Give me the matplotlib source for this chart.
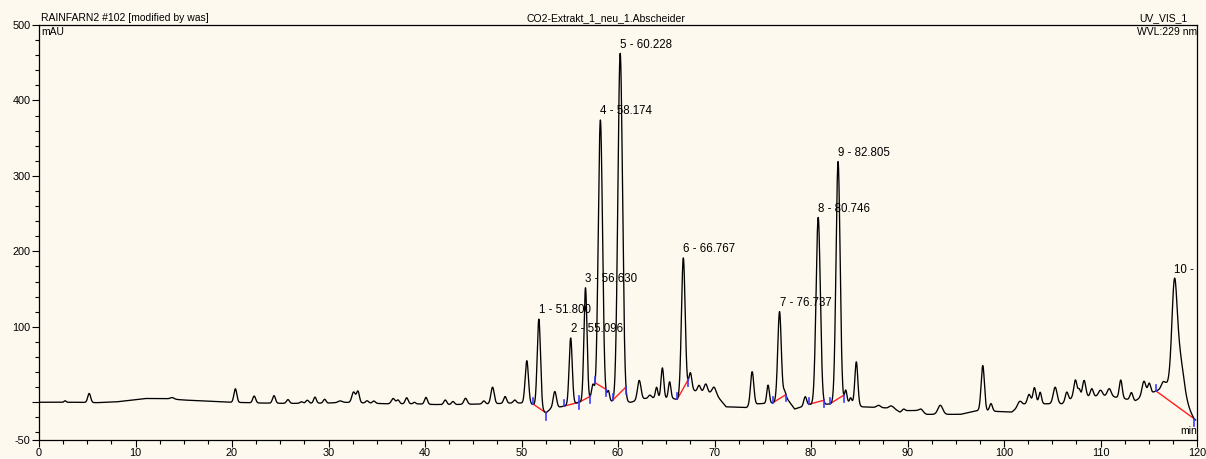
import numpy as np
import matplotlib.pyplot as plt
from matplotlib.ticker import FixedLocator, MultipleLocator

plt.rcParams['font.family'] = ['Liberation Sans', 'DejaVu Sans']

# baseline drift of the UV trace (min, mAU)
base_t = [0, 4, 6, 8, 11, 13, 15, 19, 20, 23, 26, 30, 31.5, 34, 36, 39, 41, 43, 45, 47, 49, 50,
          51.22, 52.54, 53.0, 54.44, 55.96, 57.1, 58.76, 59.45, 60.83, 61.3, 62.8, 63.8, 65.7,
          66.15, 67.3, 68.0, 68.8, 69.6, 70.3, 71.2, 73.3, 74.5, 76.0, 77.4, 78.3, 79.8, 81.35,
          82.0, 83.4, 84.3, 85.3, 88.6, 89.2, 90, 91, 92, 93, 94, 95.5, 96.5, 97.3, 99, 100.8,
          101.8, 103.5, 104.2, 106, 107, 109, 111, 113.6, 114, 115.75, 116.8, 118.5, 119.7, 120]
base_mau = [0, 0, -0.5, 0.5, 5, 5, 3, 0.5, 0, -1, -1.5, -1, 0, -1, -2, -2, -3, -3, -2.5, -2, -1, -1,
            -3, -14, -9, -5, 0, 3, 4.8, 0.4, 0.4, 0, 5, 6, 5,
            3.5, 18, 15, 14, 12, 8, -6, -7, -2, -1, 7, -9, -3, -3,
            -2, 0, 0, -6, -8, -13, -11, -11, -16, -16, -16, -16, -13, -11, -12, -13,
            -3, 0, -2, -2, 5, 8, 8, 2, 5, 15, 20, 5, -22, -25]

# peaks on top of the baseline: retention time (min), height (mAU), width (min)
peak_rt = [2.7, 5.2, 13.8, 20.35, 22.3, 24.35, 25.8, 27.2, 27.8, 28.6, 29.6, 31.2, 32.6, 33.05,
           34.0, 34.7, 36.7, 37.2, 38.1, 38.9, 40.1, 42.1, 42.9, 44.2, 46.1, 47.0, 48.3, 49.3,
           50.55, 51.8, 53.45, 55.096, 56.63, 57.4, 58.174, 59.0, 60.228,
           62.2, 63.3, 64.0, 64.6, 65.35, 66.767, 67.5, 68.4, 69.1, 69.95,
           73.9, 75.55, 76.737, 77.25, 79.4, 80.746, 82.805, 83.6, 84.1, 84.7,
           87.0, 88.3, 89.6, 91.4, 93.4, 97.8, 98.65, 101.6, 102.6, 103.15, 103.75,
           105.3, 106.5, 107.4, 107.8, 108.3, 109.1, 110.0, 110.9, 112.1, 113.2, 114.5, 115.05,
           116.5, 117.65, 118.0]
peak_height = [2, 12, 2, 18, 9, 10, 5, 2, 4, 8, 5, 2, 14, 15,
               3, 3, 7, 5, 8, 2, 9, 6, 4, 8, 4, 22, 9, 4,
               57, 118, 22, 88, 150, 20, 370, 12, 462,
               26, 4, 14, 40, 22, 180, 22, 8, 11, 10,
               45, 24, 117, 8, 12, 248, 320, 16, 6, 56,
               3, 3, 3, 4, 12, 60, 10, 6, 12, 20, 14,
               22, 12, 24, 10, 22, 10, 8, 10, 24, 10, 20, 14,
               8, 100, 65]
peak_sigma = [0.1, 0.15, 0.2, 0.15, 0.15, 0.15, 0.15, 0.15, 0.15, 0.14, 0.14, 0.2, 0.18, 0.15,
              0.15, 0.15, 0.18, 0.15, 0.15, 0.12, 0.15, 0.15, 0.15, 0.17, 0.15, 0.17, 0.15, 0.15,
              0.17, 0.17, 0.17, 0.16, 0.16, 0.15, 0.22, 0.12, 0.24,
              0.18, 0.15, 0.12, 0.14, 0.13, 0.19, 0.15, 0.15, 0.17, 0.2,
              0.17, 0.13, 0.18, 0.12, 0.15, 0.22, 0.21, 0.12, 0.1, 0.15,
              0.2, 0.2, 0.15, 0.2, 0.25, 0.17, 0.15, 0.2, 0.17, 0.15, 0.13,
              0.2, 0.15, 0.17, 0.12, 0.17, 0.15, 0.2, 0.2, 0.15, 0.15, 0.2, 0.15,
              0.2, 0.25, 0.5]

# integrated peaks
label_no = [1, 2, 3, 4, 5, 6, 7, 8, 9, 10]
label_rt = [51.800, 55.096, 56.630, 58.174, 60.228, 66.767, 76.737, 80.746, 82.805, 117.65]
label_text = ['1 - 51.800', '2 - 55.096', '3 - 56.630', '4 - 58.174', '5 - 60.228',
              '6 - 66.767', '7 - 76.737', '8 - 80.746', '9 - 82.805', '10 -']
integ_start = [51.22, 54.44, 55.96, 57.62, 59.45, 66.15, 76.03, 79.79, 81.97, 115.75]
integ_end = [52.54, 55.96, 57.10, 58.76, 60.83, 67.29, 77.41, 81.35, 83.42, 119.7]

BG = '#fdf9ee'


def signal(t):
    t = np.asarray(t, dtype=float)
    y = np.interp(t, base_t, base_mau)
    for rt, h, s in zip(peak_rt, peak_height, peak_sigma):
        y = y + h * np.exp(-0.5 * ((t - rt) / s) ** 2)
    return y


fig = plt.figure(figsize=(12.06, 4.59), dpi=100, facecolor=BG)
ax = fig.add_axes([39 / 1206, 19 / 459, 1158 / 1206, 415 / 459], facecolor=BG)

t = np.arange(0, 119.86, 0.01)
ax.plot(t, signal(t), color='black', lw=0.95, zorder=3)

# integration baselines + delimiters
for t0, t1 in zip(integ_start, integ_end):
    y0, y1 = signal(t0), signal(t1)
    ax.plot([t0, t1], [y0, y1], color='#ff2020', lw=1.0, zorder=2)
    ax.plot([t0, t0], [y0, y0 + 8], color='#3b3bff', lw=1.2, zorder=4)
    ax.plot([t1, t1], [y1 - 9, y1], color='#3b3bff', lw=1.2, zorder=4)

for rt, txt in zip(label_rt, label_text):
    ax.annotate(txt, (rt, signal(rt)), xytext=(0, 2), textcoords='offset points',
                ha='left', va='bottom', fontsize=8.3, zorder=5)

ax.set_xlim(0, 120)
ax.set_ylim(-50, 500)

ax.xaxis.set_major_locator(MultipleLocator(10))
ax.xaxis.set_minor_locator(MultipleLocator(2.5))
ax.yaxis.set_major_locator(FixedLocator([-50, 0, 100, 200, 300, 400, 500]))
ax.set_yticklabels(['-50', '', '100', '200', '300', '400', '500'])
ax.yaxis.set_minor_locator(FixedLocator([v for v in range(-40, 500, 20) if v % 100 != 0]))
ax.tick_params(which='major', direction='out', length=5, width=0.8, labelsize=7.8, pad=1)
ax.tick_params(which='minor', direction='out', length=3, width=0.8)
for sp in ax.spines.values():
    sp.set_linewidth(0.9)

ax.text(0.002, 1.005, 'RAINFARN2 #102 [modified by was]', transform=ax.transAxes,
        ha='left', va='bottom', fontsize=7.5)
ax.text(0.4206, 1.005, 'CO2-Extrakt_1_neu_1.Abscheider', transform=ax.transAxes,
        ha='left', va='bottom', fontsize=7.5)
ax.text(0.9914, 1.005, 'UV_VIS_1', transform=ax.transAxes,
        ha='right', va='bottom', fontsize=7.5)
ax.text(0.002, 0.995, 'mAU', transform=ax.transAxes, ha='left', va='top', fontsize=7.5)
ax.text(1.0, 0.995, 'WVL:229 nm', transform=ax.transAxes, ha='right', va='top', fontsize=7.5)
ax.text(1.0, 0.01, 'min', transform=ax.transAxes, ha='right', va='bottom', fontsize=7.5)

fig.savefig('out.png', dpi=100, facecolor=BG)
